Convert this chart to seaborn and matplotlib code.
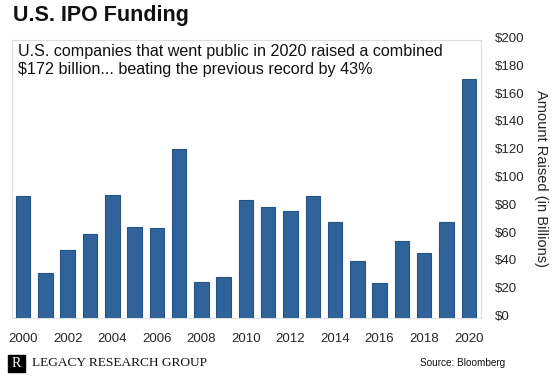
import matplotlib
matplotlib.use("Agg")
import matplotlib.pyplot as plt
import matplotlib.transforms as mtransforms
import seaborn as sns
import pandas as pd
from matplotlib.patches import Rectangle

years = [str(y) for y in range(2000, 2021)]
amounts = [87.8, 32.6, 48.9, 60.2, 88.5, 65.5, 65.0, 121.6, 25.7, 29.3, 84.9,
           80.0, 77.2, 87.5, 69.3, 40.8, 25.0, 55.6, 47.0, 68.8, 172.0]
ytick_vals = list(range(0, 201, 20))
ytick_labels = [f"${v}" for v in ytick_vals]
xtick_labels = [str(y) for y in range(2000, 2021, 2)]

title = "U.S. IPO Funding"
note = ("U.S. companies that went public in 2020 raised a combined\n"
        "$172 billion... beating the previous record by 43%")
ylabel = "Amount Raised (in Billions)"
brand = "LEGACY RESEARCH GROUP"
source = "Source: Bloomberg"

sns.set_theme(style="white")
plt.rcParams["font.family"] = ["Liberation Sans", "DejaVu Sans"]

df = pd.DataFrame({"year": years, "amount": amounts})

fig = plt.figure(figsize=(5.6, 3.78), dpi=100)
W, H = 560, 378
ax = fig.add_axes([12 / W, 1 - 318 / H, (481 - 12) / W, (318 - 40) / H])

sns.barplot(data=df, x="year", y="amount", color="#2F6399", saturation=1,
            width=0.65, edgecolor="#24538A", linewidth=0.8, ax=ax)

ax.set_xlim(-0.5, 20.55)
ax.set_ylim(0, 200)
ax.set_xticks(range(0, 21, 2))
ax.set_xticklabels(xtick_labels, fontsize=9.5)
ax.set_yticks(ytick_vals)
ax.set_yticklabels(ytick_labels, fontsize=9.5)
ax.yaxis.tick_right()
ax.yaxis.set_label_position("right")
ax.tick_params(axis="y", length=0, pad=10)
ax.tick_params(axis="x", length=0, pad=11)
shift = mtransforms.ScaledTranslation(0, 2.5 / 100, fig.dpi_scale_trans)
for lab in ax.get_yticklabels():
    lab.set_transform(lab.get_transform() + shift)
ax.set_xlabel("")
ax.set_ylabel(ylabel, fontsize=10.5, rotation=-90, labelpad=17)
for s in ax.spines.values():
    s.set_color("#dddddd")
    s.set_linewidth(0.8)

fig.text(13 / W, 1 - 16 / H, title, fontsize=15.5, fontweight="bold",
         ha="left", va="center", color="#111111")
ax.text(0.012, 0.985, note, transform=ax.transAxes, fontsize=11.6,
        ha="left", va="top", color="#111111", linespacing=1.2)

fig.patches.append(Rectangle((8 / W, 1 - 372 / H), 17 / W, 17 / H,
                             transform=fig.transFigure, color="black"))
fig.text(16.5 / W, 1 - 363.5 / H, "R", fontsize=10, color="white",
         family="Liberation Serif", ha="center", va="center")
fig.text(32 / W, 1 - 363.5 / H, brand, fontsize=9.6, family="Liberation Serif",
         ha="left", va="center", color="#111111")
fig.text(505 / W, 1 - 363.5 / H, source, fontsize=7.2, ha="right", va="center",
         color="#111111")

fig.savefig("out.png", dpi=100)
